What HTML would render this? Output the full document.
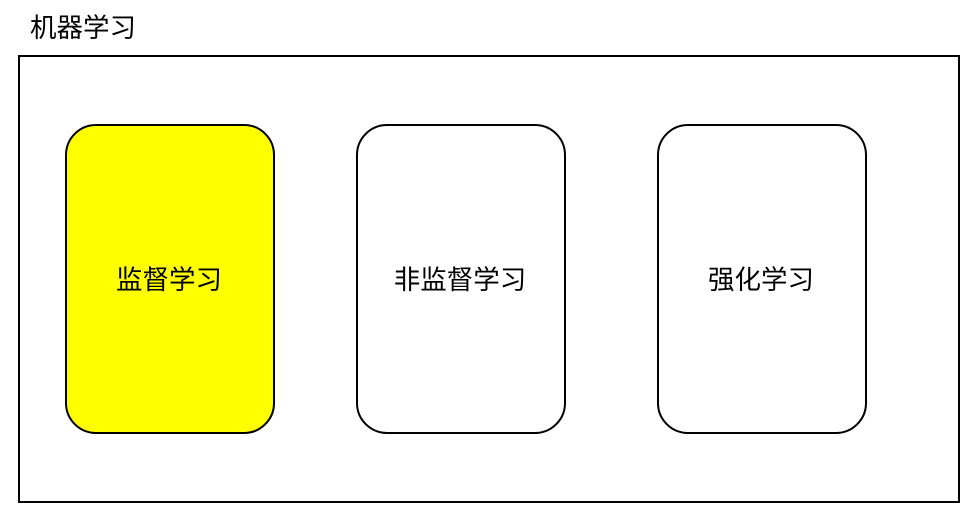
<!DOCTYPE html>
<html><head><meta charset="utf-8"><style>
html,body{margin:0;padding:0;background:#fff;width:978px;height:523px;overflow:hidden}
</style></head><body>
<svg width="978" height="523" xmlns="http://www.w3.org/2000/svg" style="display:block">
<rect x="19" y="56" width="940" height="446" fill="#fff" stroke="#000" stroke-width="2"/>
<text x="30" y="37" font-family="Liberation Sans, Noto Sans CJK SC, sans-serif" font-size="26.5" fill="#000">机器学习</text>
<rect x="66" y="125" width="208" height="308" rx="30" fill="#ffff00" stroke="#000" stroke-width="2"/>
<rect x="357" y="125" width="208" height="308" rx="30" fill="#fff" stroke="#000" stroke-width="2"/>
<rect x="658" y="125" width="208" height="308" rx="30" fill="#fff" stroke="#000" stroke-width="2"/>
<g font-family="Liberation Sans, Noto Sans CJK SC, sans-serif" font-size="26.5" fill="#000" text-anchor="middle">
<text x="169" y="289">监督学习</text>
<text x="460" y="289">非监督学习</text>
<text x="761" y="289">强化学习</text>
</g>
</svg>
</body></html>
